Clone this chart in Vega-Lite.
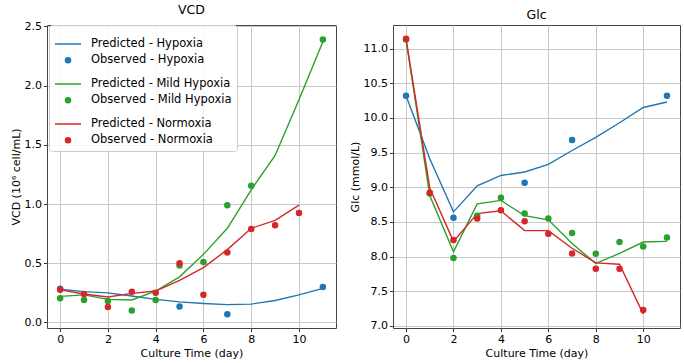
{
  "$schema": "https://vega.github.io/schema/vega-lite/v6.json",
  "padding": {"left": 9, "top": 3, "right": 0, "bottom": 0},
  "bounds": "flush",
  "spacing": 57,
  "datasets": {
    "vcd": [
      {"series": "Predicted - Hypoxia", "day": 0, "value": 0.28},
      {"series": "Predicted - Hypoxia", "day": 1, "value": 0.26},
      {"series": "Predicted - Hypoxia", "day": 2, "value": 0.25},
      {"series": "Predicted - Hypoxia", "day": 3, "value": 0.223},
      {"series": "Predicted - Hypoxia", "day": 4, "value": 0.195},
      {"series": "Predicted - Hypoxia", "day": 5, "value": 0.174},
      {"series": "Predicted - Hypoxia", "day": 6, "value": 0.16},
      {"series": "Predicted - Hypoxia", "day": 7, "value": 0.15},
      {"series": "Predicted - Hypoxia", "day": 8, "value": 0.155},
      {"series": "Predicted - Hypoxia", "day": 9, "value": 0.185},
      {"series": "Predicted - Hypoxia", "day": 10, "value": 0.233},
      {"series": "Predicted - Hypoxia", "day": 11, "value": 0.288},
      {"series": "Observed - Hypoxia", "day": 0, "value": 0.285},
      {"series": "Observed - Hypoxia", "day": 5, "value": 0.135},
      {"series": "Observed - Hypoxia", "day": 7, "value": 0.07},
      {"series": "Observed - Hypoxia", "day": 11, "value": 0.30},
      {"series": "Predicted - Mild Hypoxia", "day": 0, "value": 0.22},
      {"series": "Predicted - Mild Hypoxia", "day": 1, "value": 0.233},
      {"series": "Predicted - Mild Hypoxia", "day": 2, "value": 0.195},
      {"series": "Predicted - Mild Hypoxia", "day": 3, "value": 0.19},
      {"series": "Predicted - Mild Hypoxia", "day": 4, "value": 0.265},
      {"series": "Predicted - Mild Hypoxia", "day": 5, "value": 0.385},
      {"series": "Predicted - Mild Hypoxia", "day": 6, "value": 0.575},
      {"series": "Predicted - Mild Hypoxia", "day": 7, "value": 0.795},
      {"series": "Predicted - Mild Hypoxia", "day": 8, "value": 1.12},
      {"series": "Predicted - Mild Hypoxia", "day": 9, "value": 1.41},
      {"series": "Predicted - Mild Hypoxia", "day": 10, "value": 1.88},
      {"series": "Predicted - Mild Hypoxia", "day": 11, "value": 2.37},
      {"series": "Observed - Mild Hypoxia", "day": 0, "value": 0.205},
      {"series": "Observed - Mild Hypoxia", "day": 1, "value": 0.19},
      {"series": "Observed - Mild Hypoxia", "day": 2, "value": 0.18},
      {"series": "Observed - Mild Hypoxia", "day": 3, "value": 0.10},
      {"series": "Observed - Mild Hypoxia", "day": 4, "value": 0.19},
      {"series": "Observed - Mild Hypoxia", "day": 5, "value": 0.48},
      {"series": "Observed - Mild Hypoxia", "day": 6, "value": 0.51},
      {"series": "Observed - Mild Hypoxia", "day": 7, "value": 0.99},
      {"series": "Observed - Mild Hypoxia", "day": 8, "value": 1.155},
      {"series": "Observed - Mild Hypoxia", "day": 11, "value": 2.39},
      {"series": "Predicted - Normoxia", "day": 0, "value": 0.275},
      {"series": "Predicted - Normoxia", "day": 1, "value": 0.24},
      {"series": "Predicted - Normoxia", "day": 2, "value": 0.215},
      {"series": "Predicted - Normoxia", "day": 3, "value": 0.245},
      {"series": "Predicted - Normoxia", "day": 4, "value": 0.265},
      {"series": "Predicted - Normoxia", "day": 5, "value": 0.355},
      {"series": "Predicted - Normoxia", "day": 6, "value": 0.463},
      {"series": "Predicted - Normoxia", "day": 7, "value": 0.615},
      {"series": "Predicted - Normoxia", "day": 8, "value": 0.795},
      {"series": "Predicted - Normoxia", "day": 9, "value": 0.862},
      {"series": "Predicted - Normoxia", "day": 10, "value": 0.99},
      {"series": "Observed - Normoxia", "day": 0, "value": 0.275},
      {"series": "Observed - Normoxia", "day": 1, "value": 0.24},
      {"series": "Observed - Normoxia", "day": 2, "value": 0.13},
      {"series": "Observed - Normoxia", "day": 3, "value": 0.26},
      {"series": "Observed - Normoxia", "day": 4, "value": 0.25},
      {"series": "Observed - Normoxia", "day": 5, "value": 0.50},
      {"series": "Observed - Normoxia", "day": 6, "value": 0.233},
      {"series": "Observed - Normoxia", "day": 7, "value": 0.59},
      {"series": "Observed - Normoxia", "day": 8, "value": 0.79},
      {"series": "Observed - Normoxia", "day": 9, "value": 0.82},
      {"series": "Observed - Normoxia", "day": 10, "value": 0.925}
    ],
    "glc": [
      {"series": "Predicted - Hypoxia", "day": 0, "value": 10.32},
      {"series": "Predicted - Hypoxia", "day": 1, "value": 9.41},
      {"series": "Predicted - Hypoxia", "day": 2, "value": 8.645},
      {"series": "Predicted - Hypoxia", "day": 3, "value": 9.02},
      {"series": "Predicted - Hypoxia", "day": 4, "value": 9.17},
      {"series": "Predicted - Hypoxia", "day": 5, "value": 9.22},
      {"series": "Predicted - Hypoxia", "day": 6, "value": 9.33},
      {"series": "Predicted - Hypoxia", "day": 7, "value": 9.53},
      {"series": "Predicted - Hypoxia", "day": 8, "value": 9.72},
      {"series": "Predicted - Hypoxia", "day": 9, "value": 9.93},
      {"series": "Predicted - Hypoxia", "day": 10, "value": 10.15},
      {"series": "Predicted - Hypoxia", "day": 11, "value": 10.23},
      {"series": "Observed - Hypoxia", "day": 0, "value": 10.32},
      {"series": "Observed - Hypoxia", "day": 2, "value": 8.56},
      {"series": "Observed - Hypoxia", "day": 5, "value": 9.065},
      {"series": "Observed - Hypoxia", "day": 7, "value": 9.68},
      {"series": "Observed - Hypoxia", "day": 11, "value": 10.32},
      {"series": "Predicted - Mild Hypoxia", "day": 0, "value": 11.13},
      {"series": "Predicted - Mild Hypoxia", "day": 1, "value": 8.88},
      {"series": "Predicted - Mild Hypoxia", "day": 2, "value": 8.07},
      {"series": "Predicted - Mild Hypoxia", "day": 3, "value": 8.76},
      {"series": "Predicted - Mild Hypoxia", "day": 4, "value": 8.81},
      {"series": "Predicted - Mild Hypoxia", "day": 5, "value": 8.59},
      {"series": "Predicted - Mild Hypoxia", "day": 6, "value": 8.53},
      {"series": "Predicted - Mild Hypoxia", "day": 7, "value": 8.19},
      {"series": "Predicted - Mild Hypoxia", "day": 8, "value": 7.90},
      {"series": "Predicted - Mild Hypoxia", "day": 9, "value": 8.045},
      {"series": "Predicted - Mild Hypoxia", "day": 10, "value": 8.21},
      {"series": "Predicted - Mild Hypoxia", "day": 11, "value": 8.22},
      {"series": "Observed - Mild Hypoxia", "day": 0, "value": 11.13},
      {"series": "Observed - Mild Hypoxia", "day": 1, "value": 8.91},
      {"series": "Observed - Mild Hypoxia", "day": 2, "value": 7.98},
      {"series": "Observed - Mild Hypoxia", "day": 3, "value": 8.59},
      {"series": "Observed - Mild Hypoxia", "day": 4, "value": 8.85},
      {"series": "Observed - Mild Hypoxia", "day": 5, "value": 8.62},
      {"series": "Observed - Mild Hypoxia", "day": 6, "value": 8.55},
      {"series": "Observed - Mild Hypoxia", "day": 7, "value": 8.34},
      {"series": "Observed - Mild Hypoxia", "day": 8, "value": 8.04},
      {"series": "Observed - Mild Hypoxia", "day": 9, "value": 8.21},
      {"series": "Observed - Mild Hypoxia", "day": 10, "value": 8.145},
      {"series": "Observed - Mild Hypoxia", "day": 11, "value": 8.275},
      {"series": "Predicted - Normoxia", "day": 0, "value": 11.14},
      {"series": "Predicted - Normoxia", "day": 1, "value": 8.99},
      {"series": "Predicted - Normoxia", "day": 2, "value": 8.22},
      {"series": "Predicted - Normoxia", "day": 3, "value": 8.62},
      {"series": "Predicted - Normoxia", "day": 4, "value": 8.66},
      {"series": "Predicted - Normoxia", "day": 5, "value": 8.375},
      {"series": "Predicted - Normoxia", "day": 6, "value": 8.375},
      {"series": "Predicted - Normoxia", "day": 7, "value": 8.12},
      {"series": "Predicted - Normoxia", "day": 8, "value": 7.91},
      {"series": "Predicted - Normoxia", "day": 9, "value": 7.89},
      {"series": "Predicted - Normoxia", "day": 10, "value": 7.17},
      {"series": "Observed - Normoxia", "day": 0, "value": 11.14},
      {"series": "Observed - Normoxia", "day": 1, "value": 8.92},
      {"series": "Observed - Normoxia", "day": 2, "value": 8.24},
      {"series": "Observed - Normoxia", "day": 3, "value": 8.55},
      {"series": "Observed - Normoxia", "day": 4, "value": 8.67},
      {"series": "Observed - Normoxia", "day": 5, "value": 8.51},
      {"series": "Observed - Normoxia", "day": 6, "value": 8.33},
      {"series": "Observed - Normoxia", "day": 7, "value": 8.045},
      {"series": "Observed - Normoxia", "day": 8, "value": 7.825},
      {"series": "Observed - Normoxia", "day": 9, "value": 7.825},
      {"series": "Observed - Normoxia", "day": 10, "value": 7.23}
    ]
  },
  "hconcat": [
    {
      "width": 289,
      "height": 303,
      "title": "VCD",
      "data": {"name": "vcd"},
      "encoding": {
        "x": {"field": "day", "type": "quantitative", "scale": {"domain": [-0.55, 11.55], "nice": false, "zero": false},
              "axis": {"values": [0, 2, 4, 6, 8, 10], "title": "Culture Time (day)"}},
        "y": {"field": "value", "type": "quantitative", "scale": {"domain": [-0.047, 2.512], "nice": false, "zero": false},
              "axis": {"values": [0, 0.5, 1, 1.5, 2, 2.5], "format": ".1f", "title": "VCD (10⁶ cell/mL)"}},
        "color": {"field": "series", "type": "nominal",
                  "scale": {"domain": ["Predicted - Hypoxia", "Observed - Hypoxia", "Predicted - Mild Hypoxia", "Observed - Mild Hypoxia", "Predicted - Normoxia", "Observed - Normoxia"],
                            "range": ["#1f77b4", "#1f77b4", "#2ca02c", "#2ca02c", "#d62728", "#d62728"]}}
      },
      "layer": [
        {"transform": [{"filter": "indexof(datum.series, 'Predicted') === 0"}],
         "mark": {"type": "line", "strokeWidth": 1.4}, "encoding": {}},
        {"transform": [{"filter": "indexof(datum.series, 'Observed') === 0"}],
         "mark": {"type": "point", "filled": true, "opacity": 1, "strokeWidth": 1.4},
         "encoding": {
           "shape": {"field": "series", "type": "nominal",
                     "scale": {"domain": ["Predicted - Hypoxia", "Observed - Hypoxia", "Predicted - Mild Hypoxia", "Observed - Mild Hypoxia", "Predicted - Normoxia", "Observed - Normoxia"],
                               "range": ["stroke", "circle", "stroke", "circle", "stroke", "circle"]}},
           "size": {"field": "series", "type": "nominal",
                    "scale": {"type": "ordinal", "domain": ["Predicted - Hypoxia", "Observed - Hypoxia", "Predicted - Mild Hypoxia", "Observed - Mild Hypoxia", "Predicted - Normoxia", "Observed - Normoxia"],
                              "range": [676, 26, 676, 26, 676, 26]}},
           "stroke": {"field": "series", "type": "nominal",
                      "scale": {"domain": ["Predicted - Hypoxia", "Observed - Hypoxia", "Predicted - Mild Hypoxia", "Observed - Mild Hypoxia", "Predicted - Normoxia", "Observed - Normoxia"],
                                "range": ["#1f77b4", "#1f77b4", "#2ca02c", "#2ca02c", "#d62728", "#d62728"]}}
         }}
      ]
    },
    {
      "width": 287,
      "height": 303,
      "title": "Glc",
      "data": {"name": "glc"},
      "encoding": {
        "x": {"field": "day", "type": "quantitative", "scale": {"domain": [-0.55, 11.55], "nice": false, "zero": false},
              "axis": {"values": [0, 2, 4, 6, 8, 10], "title": "Culture Time (day)"}},
        "y": {"field": "value", "type": "quantitative", "scale": {"domain": [6.97, 11.34], "nice": false, "zero": false},
              "axis": {"values": [7, 7.5, 8, 8.5, 9, 9.5, 10, 10.5, 11], "format": ".1f", "title": "Glc (mmol/L)"}},
        "color": {"field": "series", "type": "nominal",
                  "scale": {"domain": ["Predicted - Hypoxia", "Observed - Hypoxia", "Predicted - Mild Hypoxia", "Observed - Mild Hypoxia", "Predicted - Normoxia", "Observed - Normoxia"],
                            "range": ["#1f77b4", "#1f77b4", "#2ca02c", "#2ca02c", "#d62728", "#d62728"]}}
      },
      "layer": [
        {"transform": [{"filter": "indexof(datum.series, 'Predicted') === 0"}],
         "mark": {"type": "line", "strokeWidth": 1.4}, "encoding": {}},
        {"transform": [{"filter": "indexof(datum.series, 'Observed') === 0"}],
         "mark": {"type": "point", "filled": true, "opacity": 1, "strokeWidth": 1.4},
         "encoding": {
           "shape": {"field": "series", "type": "nominal",
                     "scale": {"domain": ["Predicted - Hypoxia", "Observed - Hypoxia", "Predicted - Mild Hypoxia", "Observed - Mild Hypoxia", "Predicted - Normoxia", "Observed - Normoxia"],
                               "range": ["stroke", "circle", "stroke", "circle", "stroke", "circle"]}},
           "size": {"field": "series", "type": "nominal",
                    "scale": {"type": "ordinal", "domain": ["Predicted - Hypoxia", "Observed - Hypoxia", "Predicted - Mild Hypoxia", "Observed - Mild Hypoxia", "Predicted - Normoxia", "Observed - Normoxia"],
                              "range": [676, 26, 676, 26, 676, 26]}},
           "stroke": {"field": "series", "type": "nominal",
                      "scale": {"domain": ["Predicted - Hypoxia", "Observed - Hypoxia", "Predicted - Mild Hypoxia", "Observed - Mild Hypoxia", "Predicted - Normoxia", "Observed - Normoxia"],
                                "range": ["#1f77b4", "#1f77b4", "#2ca02c", "#2ca02c", "#d62728", "#d62728"]}}
         }}
      ]
    }
  ],
  "resolve": {"scale": {"color": "shared", "shape": "shared", "size": "shared", "stroke": "shared"}},
  "encoding": {},
  "config": {
    "font": "DejaVu Sans",
    "view": {"stroke": "#444444", "strokeWidth": 1},
    "title": {"fontSize": 12.5, "fontWeight": "normal", "color": "#000000", "offset": 4, "anchor": "middle"},
    "axis": {
      "domain": false,
      "labelFontSize": 11,
      "labelColor": "#000000",
      "labelPadding": 2,
      "titleFontSize": 11,
      "titleFontWeight": "normal",
      "titleColor": "#000000",
      "titlePadding": 3,
      "tickColor": "#000000",
      "tickSize": 3.5,
      "tickWidth": 0.8,
      "gridColor": "#c8c8c8",
      "gridWidth": 1
    },
    "legend": {
      "orient": "none",
      "legendX": 2,
      "legendY": 0,
      "title": null,
      "labelFontSize": 11.5,
      "labelColor": "#000000",
      "labelOffset": 9,
      "symbolStrokeWidth": 1.5,
      "fillColor": "rgba(255,255,255,0.85)",
      "strokeColor": "#cccccc",
      "cornerRadius": 3,
      "padding": 5,
      "rowPadding": 3.5,
      "labelLimit": 300
    }
  }
}
